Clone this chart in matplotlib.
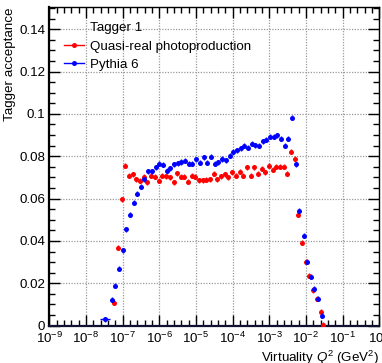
import numpy as np
import matplotlib
matplotlib.use("Agg")
import matplotlib.pyplot as plt
from matplotlib.lines import Line2D
from matplotlib.ticker import FixedLocator, LogFormatterMathtext, MultipleLocator

plt.rcParams['font.family'] = ['Liberation Sans', 'DejaVu Sans']
plt.rcParams['mathtext.fontset'] = 'custom'
plt.rcParams['mathtext.rm'] = 'Liberation Sans'
plt.rcParams['mathtext.it'] = 'Liberation Sans:italic'
plt.rcParams['mathtext.default'] = 'regular'

# log10(Q^2) positions and acceptance values
quasi_log_q2 = [-7.23, -7.14, -7.03, -6.93, -6.83, -6.73, -6.63, -6.53, -6.43, -6.33,
                -6.23, -6.13, -6.02, -5.92, -5.82, -5.72, -5.61, -5.51, -5.42, -5.32,
                -5.22, -5.12, -5.02, -4.92, -4.82, -4.72, -4.62, -4.52, -4.42, -4.32,
                -4.22, -4.12, -4.01, -3.91, -3.81, -3.71, -3.61, -3.51, -3.41, -3.31,
                -3.21, -3.11, -3.01, -2.91, -2.81, -2.71, -2.61, -2.51, -2.41, -2.31,
                -2.21, -2.10, -2.00, -1.91, -1.80, -1.69, -1.58, -1.53]
quasi_acc = [0.0109, 0.0368, 0.0597, 0.0756, 0.0707, 0.0714, 0.0692, 0.0684, 0.0703, 0.0676,
             0.0707, 0.0703, 0.0684, 0.0707, 0.0705, 0.0700, 0.0676, 0.0720, 0.0704, 0.0704,
             0.0679, 0.0708, 0.0704, 0.0687, 0.0687, 0.0689, 0.0692, 0.0717, 0.0692, 0.0705,
             0.0714, 0.0700, 0.0724, 0.0709, 0.0726, 0.0709, 0.0747, 0.0707, 0.0747, 0.0717,
             0.0740, 0.0725, 0.0755, 0.0736, 0.0751, 0.0751, 0.0751, 0.0717, 0.0821, 0.0789,
             0.0524, 0.0391, 0.0302, 0.0235, 0.0167, 0.0126, 0.0066, 0.0003]

pythia_log_q2 = [-7.475, -7.30, -7.21, -7.10, -7.00, -6.90, -6.80, -6.70, -6.60, -6.50,
                 -6.41, -6.31, -6.20, -6.10, -6.00, -5.90, -5.80, -5.70, -5.60, -5.50,
                 -5.40, -5.29, -5.20, -5.10, -5.00, -4.89, -4.78, -4.69, -4.58, -4.49,
                 -4.39, -4.28, -4.18, -4.08, -3.98, -3.88, -3.78, -3.68, -3.58, -3.48,
                 -3.38, -3.28, -3.18, -3.08, -2.98, -2.88, -2.78, -2.68, -2.58, -2.48,
                 -2.38, -2.27, -2.18, -2.07, -1.97, -1.87, -1.78, -1.68, -1.56]
pythia_acc = [0.0030, 0.0123, 0.0189, 0.0268, 0.0356, 0.0455, 0.0524, 0.0581, 0.0624, 0.0657,
              0.0692, 0.0728, 0.0728, 0.0748, 0.0765, 0.0761, 0.0731, 0.0744, 0.0763, 0.0767,
              0.0773, 0.0779, 0.0764, 0.0764, 0.0785, 0.0770, 0.0795, 0.0770, 0.0797, 0.0765,
              0.0771, 0.0787, 0.0782, 0.0803, 0.0822, 0.0828, 0.0837, 0.0849, 0.0841, 0.0860,
              0.0851, 0.0849, 0.0870, 0.0878, 0.0892, 0.0893, 0.0898, 0.0882, 0.0849, 0.0882,
              0.0983, 0.0763, 0.0542, 0.0424, 0.0302, 0.0231, 0.0174, 0.0126, 0.0047]

legend_title = "Tagger 1"
series_labels = ["Quasi-real photoproduction", "Pythia 6"]
x_label = "Virtuality $\\mathit{Q}^{2}$ (GeV$^{2}$)"
y_label = "Tagger acceptance"

W, H = 382, 363
fig = plt.figure(figsize=(W / 100, H / 100), dpi=100)
ax = fig.add_axes([49.4 / W, 1 - 325.6 / H, 330 / W, 318.6 / H])

red = "#ff0000"
blue = "#0000ff"
yerr = 0.0012

xq = 10.0 ** np.array(quasi_log_q2)
xp = 10.0 ** np.array(pythia_log_q2)

ax.errorbar(xq, quasi_acc, yerr=yerr, fmt='o', color=red, ms=3.6, elinewidth=1.0,
            capsize=0, mew=0, zorder=3)
ax.errorbar(xp, pythia_acc, yerr=yerr, fmt='o', color=blue, ms=3.6, elinewidth=1.0,
            capsize=0, mew=0, zorder=4)
# horizontal bin width on the first Pythia point
ax.errorbar(xp[:1], pythia_acc[:1], xerr=[[xp[0] * (1 - 10 ** -0.14)], [xp[0] * (10 ** 0.12 - 1)]],
            fmt='none', ecolor=blue, elinewidth=1.0, capsize=0, zorder=4)

ax.set_xscale('log')
ax.set_xlim(1e-9, 1.0)
ax.set_ylim(0, 0.1505)

ax.xaxis.set_major_locator(FixedLocator([10.0 ** e for e in range(-9, 1)]))
minor = [10.0 ** (e + f) for e in range(-9, 0) for f in (0.2, 0.4, 0.6, 0.8)]
ax.xaxis.set_minor_locator(FixedLocator(minor))
ax.xaxis.set_major_formatter(LogFormatterMathtext())
ax.yaxis.set_major_locator(MultipleLocator(0.02))
ax.yaxis.set_minor_locator(MultipleLocator(0.005))
ax.yaxis.set_major_formatter(matplotlib.ticker.FuncFormatter(
    lambda v, p: "0" if abs(v) < 1e-9 else ("%.2f" % v).rstrip('0')))

ax.tick_params(which='both', direction='in', top=True, right=True, labelsize=9.6,
               colors='black', pad=3)
ax.tick_params(which='major', length=8, width=1.0)
ax.tick_params(which='minor', length=4, width=1.0)
ax.tick_params(axis='x', which='major', pad=4)

for s in ['left', 'bottom']:
    ax.spines[s].set_linewidth(1.6)
ax.spines['bottom'].set_color('#101030')
for s in ['top', 'right']:
    ax.spines[s].set_linewidth(1.0)

ax.grid(True, which='major', linestyle=(0, (1, 1.2)), color='#9a9a9a', linewidth=0.9)
ax.set_axisbelow(True)

ax.set_xlabel(x_label, fontsize=9.6, loc='right', labelpad=2)
ax.set_ylabel(y_label, fontsize=9.6, loc='top', labelpad=2)

handles = [Line2D([], [], linestyle='none'),
           Line2D([], [], color=red, marker='o', ms=3.6, mew=0, lw=1.0),
           Line2D([], [], color=blue, marker='o', ms=3.6, mew=0, lw=1.0)]
ax.legend(handles, [legend_title] + series_labels, loc='upper left',
          bbox_to_anchor=((64 - 49.4) / 330, (325.6 - 22) / 318.6), frameon=False,
          fontsize=9.6, handlelength=1.5, handletextpad=0.45, labelspacing=0.45,
          borderaxespad=0, borderpad=0)

fig.savefig("out.png", dpi=100)
